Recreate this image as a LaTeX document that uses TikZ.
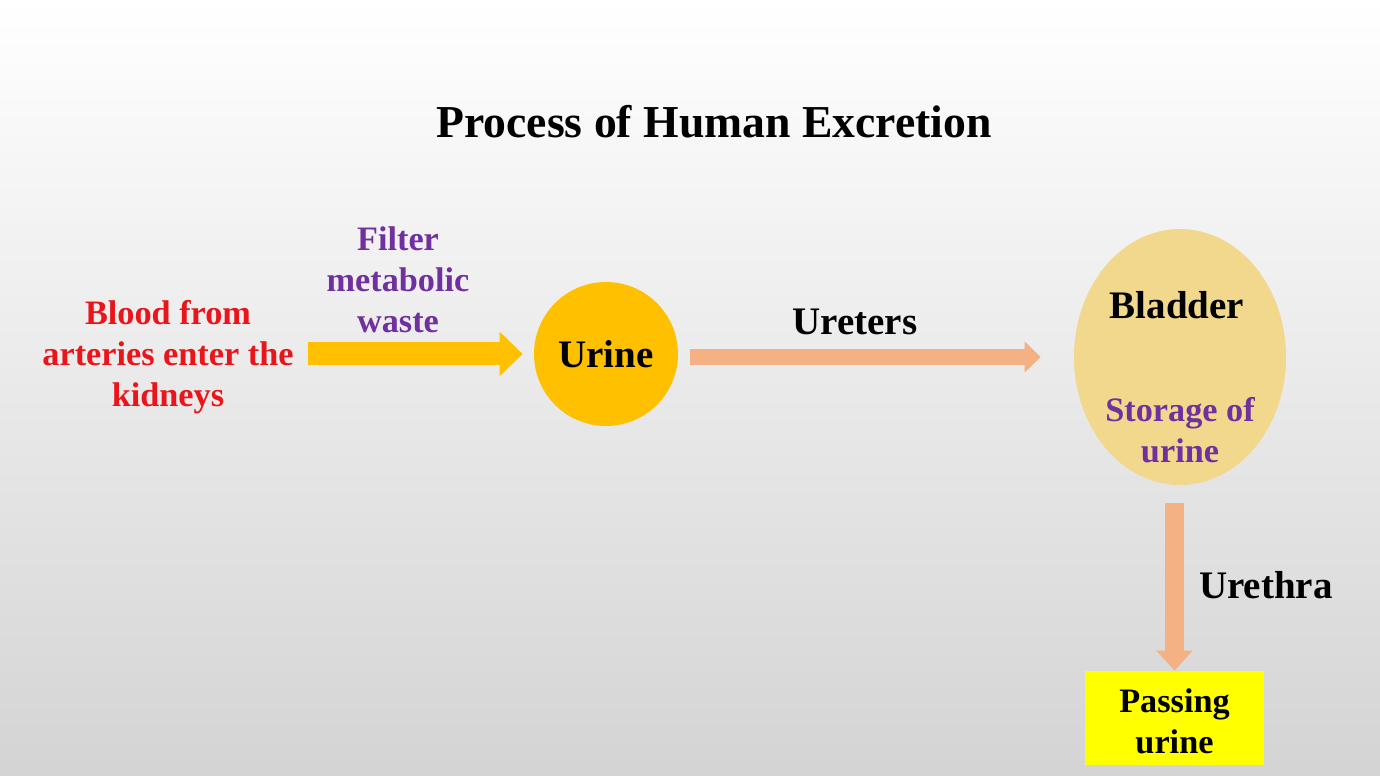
\documentclass[tikz,border=0pt]{standalone}
\usepackage{fontspec}
\setmainfont{Liberation Serif}
\usepackage{xcolor}
\usetikzlibrary{arrows.meta, positioning, shapes.geometric}

\definecolor{urinegold}{HTML}{FFC000}
\definecolor{bladdergold}{HTML}{F2D88C}
\definecolor{tubeorange}{HTML}{F4B183}
\definecolor{wastepurple}{HTML}{7030A0}
\definecolor{bloodred}{HTML}{E8161B}
\definecolor{passyellow}{HTML}{FFFF00}

\begin{document}
\begin{tikzpicture}[
        x=0.02cm, y=-0.02cm,
        every node/.style={font=\bfseries\fontsize{19.5}{23.3}\selectfont, align=center, inner sep=0pt},
        bigtext/.style={font=\bfseries\fontsize{22.2}{26}\selectfont},
        flowarrow/.style={line width=0.46cm, urinegold, -{Triangle[length=0.46cm, width=0.86cm]}},
        tubearrow/.style={line width=0.32cm, tubeorange, -{Triangle[length=0.32cm, width=0.6cm]}}
        ]
        % Background
        \shade[top color=white, bottom color=black!17] (0,0) rectangle (1380,776);
        \useasboundingbox (0,0) rectangle (1380,776);

        % Title
        \node[font=\bfseries\fontsize{26}{30}\selectfont] (title) at (714,122) {Process of Human Excretion};

        % Nodes
        \node[text=bloodred] (blood) at (168,357) {Blood from\\ arteries enter the\\ kidneys};
        \node[circle, fill=urinegold, minimum size=2.88cm, bigtext] (urine) at (606,354) {Urine};
        \node[ellipse, fill=bladdergold, minimum width=4.24cm, minimum height=5.12cm] (bladder) at (1180,357) {};
        \node[bigtext] (bladdername) at (1177,305) {Bladder};
        \node[text=wastepurple] (storage) at (1180,430) {Storage of\\ urine};
        \node[rectangle, fill=passyellow, minimum width=3.58cm, minimum height=1.88cm] (passing) at (1174.5,718) {};
        \node (passtext) at (1174.5,721) {Passing\\ urine};

        % Labels
        \node[text=wastepurple] (filter) at (398,280) {Filter\\ metabolic\\ waste};
        \node[bigtext] (ureters) at (855,322) {Ureters};
        \node[bigtext] (urethra) at (1266,585) {Urethra};

        % Arrows
        \draw[flowarrow, shorten <=0.28cm, shorten >=0.22cm] (blood.east |- urine.west) -- (urine.west);
        \draw[tubearrow, shorten <=0.24cm, shorten >=0.66cm] (urine.east |- bladder.west) -- (bladder.west);
        \draw[tubearrow, line width=0.38cm, -{Triangle[length=0.4cm, width=0.7cm]}, shorten <=0.36cm]
            (bladder.south -| passing.north) -- (passing.north);
    \end{tikzpicture}
\end{document}
